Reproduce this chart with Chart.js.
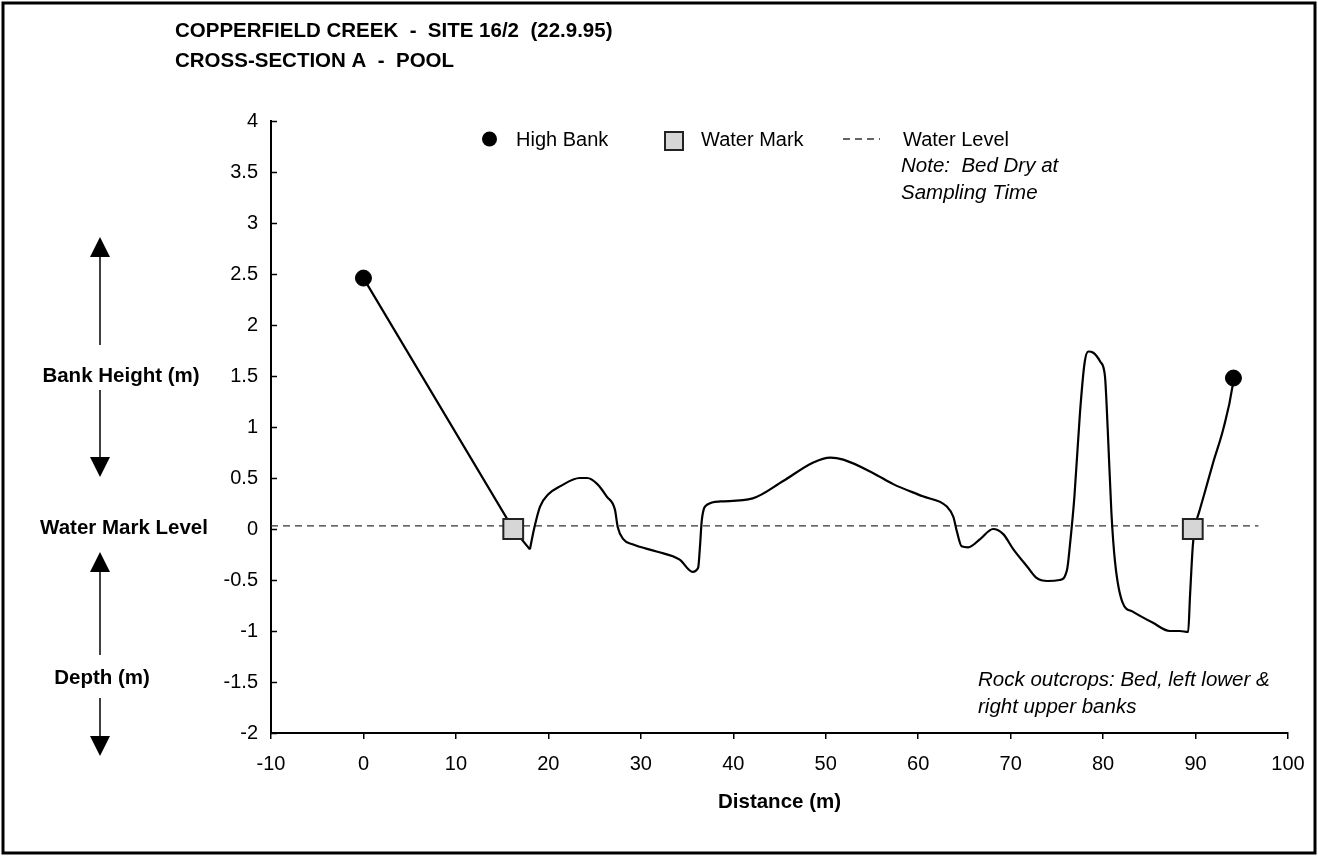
<!DOCTYPE html>
<html><head><meta charset="utf-8">
<script src="https://cdn.jsdelivr.net/npm/chart.js@4/dist/chart.umd.min.js"></script>
<style>html,body{margin:0;padding:0;background:#fff}canvas{display:block}</style>
</head><body>
<canvas id="c" width="1318" height="856"></canvas>
<script>
const titleLines = ["COPPERFIELD CREEK  -  SITE 16/2  (22.9.95)", "CROSS-SECTION A  -  POOL"];
const xTickValues = [-10, 0, 10, 20, 30, 40, 50, 60, 70, 80, 90, 100];
const xTickLabels = ["-10", "0", "10", "20", "30", "40", "50", "60", "70", "80", "90", "100"];
const yTickValues = [-2, -1.5, -1, -0.5, 0, 0.5, 1, 1.5, 2, 2.5, 3, 3.5, 4];
const yTickLabels = ["-2", "-1.5", "-1", "-0.5", "0", "0.5", "1", "1.5", "2", "2.5", "3", "3.5", "4"];
const xAxisTitle = "Distance (m)";
const legendLabels = ["High Bank", "Water Mark", "Water Level"];
const noteLines = ["Note:  Bed Dry at", "Sampling Time"];
const rockLines = ["Rock outcrops: Bed, left lower &", "right upper banks"];
const sideLabels = ["Bank Height (m)", "Water Mark Level", "Depth (m)"];

// left bank (straight segments)
const bankX = [0, 16.2, 18.0];
const bankY = [2.46, 0, -0.20];
// bed profile (smooth)
const profileX = [18.0, 18.5, 19.1, 20.0, 21.3, 23.4, 24.2, 25.3, 26.3, 27.2, 27.5, 28.1, 29.1, 31.7, 34.2, 35.6, 36.2, 36.4, 36.6, 37.2, 38.6, 42.1, 45.4, 48.6, 50.5, 51.9, 55.1, 57.3, 60.5, 63.1, 63.8, 64.2, 64.7, 65.4, 66.7, 68.1, 69.2, 70.3, 71.8, 72.8, 74.0, 75.3, 76.1, 76.4, 76.9, 77.5, 78.0, 78.4, 78.9, 79.7, 80.2, 80.5, 80.9, 81.3, 82.1, 83.2, 85.4, 87.2, 88.3, 89.2, 89.4, 89.7, 89.9, 90.4, 91.0, 91.9, 93.0, 94.0, 94.1];
const profileY = [-0.20, 0.02, 0.22, 0.34, 0.42, 0.50, 0.50, 0.44, 0.32, 0.19, 0.02, -0.10, -0.15, -0.22, -0.30, -0.42, -0.38, -0.17, 0.09, 0.24, 0.27, 0.30, 0.47, 0.65, 0.70, 0.68, 0.55, 0.44, 0.32, 0.22, 0.12, -0.03, -0.17, -0.18, -0.10, 0.00, -0.05, -0.20, -0.37, -0.48, -0.51, -0.50, -0.40, -0.17, 0.32, 1.14, 1.63, 1.74, 1.73, 1.64, 1.50, 0.98, 0.16, -0.33, -0.72, -0.81, -0.92, -1.00, -1.00, -1.01, -0.66, -0.17, 0.00, 0.17, 0.36, 0.65, 0.98, 1.40, 1.48];
const highBankX = [0, 94.1];
const highBankY = [2.46, 1.48];
const waterMarkX = [16.2, 89.7];
const waterMarkY = [0, 0];
const waterLevelX = [-10, 96.8];
const waterLevelY = [0.03, 0.03];

const pts = (xs, ys) => xs.map((x, i) => ({x: x, y: ys[i]}));
const FONT = "'Liberation Sans', Arial, sans-serif";
const markFill = '#d6d6d6';

const deco = {
  id: 'deco',
  afterDraw(chart) {
    const ctx = chart.ctx;
    const ys = chart.scales.y;
    ctx.save();
    // frame
    ctx.strokeStyle = '#000'; ctx.lineWidth = 3;
    ctx.strokeRect(3, 3, 1312, 850);
    // inward y ticks
    ctx.lineWidth = 1.5;
    yTickValues.forEach(v => {
      const py = Math.round(ys.getPixelForValue(v)) + 0.5;
      ctx.beginPath(); ctx.moveTo(chart.chartArea.left, py); ctx.lineTo(chart.chartArea.left + 6, py); ctx.stroke();
    });
    ctx.fillStyle = '#000';
    ctx.textBaseline = 'middle';
    // title
    ctx.font = 'bold 20.5px ' + FONT; ctx.textAlign = 'left';
    ctx.fillText(titleLines[0], 175, 31);
    ctx.fillText(titleLines[1], 175, 61);
    // x axis title
    ctx.font = 'bold 20.5px ' + FONT; ctx.textAlign = 'center';
    ctx.fillText(xAxisTitle, (chart.chartArea.left + chart.chartArea.right) / 2, 802);
    // side labels
    ctx.fillText(sideLabels[0], 121, 376);
    ctx.fillText(sideLabels[1], 124, 528);
    ctx.fillText(sideLabels[2], 102, 678);
    // arrows
    const arrow = (x, y1, y2) => {
      const dir = Math.sign(y2 - y1);
      ctx.lineWidth = 1.5;
      ctx.beginPath(); ctx.moveTo(x, y1); ctx.lineTo(x, y2 - dir * 18); ctx.stroke();
      ctx.beginPath(); ctx.moveTo(x, y2); ctx.lineTo(x - 10, y2 - dir * 20); ctx.lineTo(x + 10, y2 - dir * 20); ctx.closePath(); ctx.fill();
    };
    arrow(100, 345, 237);
    arrow(100, 390, 477);
    arrow(100, 655, 552);
    arrow(100, 698, 756);
    // legend
    ctx.beginPath(); ctx.arc(489.5, 139, 7.5, 0, Math.PI * 2); ctx.fill();
    ctx.font = '20px ' + FONT; ctx.textAlign = 'left';
    ctx.fillText(legendLabels[0], 516, 140);
    ctx.fillStyle = markFill; ctx.fillRect(665, 132, 18, 18);
    ctx.strokeStyle = '#222'; ctx.lineWidth = 2; ctx.strokeRect(665, 132, 18, 18);
    ctx.fillStyle = '#000';
    ctx.fillText(legendLabels[1], 701, 140);
    ctx.strokeStyle = '#333'; ctx.lineWidth = 1.3; ctx.setLineDash([7, 5]);
    ctx.beginPath(); ctx.moveTo(843, 139); ctx.lineTo(880, 139); ctx.stroke();
    ctx.setLineDash([]);
    ctx.fillText(legendLabels[2], 903, 140);
    // notes
    ctx.font = 'italic 20.5px ' + FONT;
    ctx.fillText(noteLines[0], 901, 166);
    ctx.fillText(noteLines[1], 901, 193);
    ctx.fillText(rockLines[0], 978, 680);
    ctx.fillText(rockLines[1], 978, 707);
    ctx.restore();
  }
};

new Chart(document.getElementById('c'), {
  type: 'scatter',
  data: {
    datasets: [
      { label: legendLabels[0], data: pts(highBankX, highBankY), showLine: false, order: 0,
        pointStyle: 'circle', pointRadius: 8, pointBackgroundColor: '#000', pointBorderColor: '#000', pointBorderWidth: 1 },
      { label: legendLabels[1], data: pts(waterMarkX, waterMarkY), showLine: false, order: 0,
        pointStyle: 'rect', pointRadius: 14, pointBackgroundColor: markFill, pointBorderColor: '#222', pointBorderWidth: 2 },
      { label: 'Bank', data: pts(bankX, bankY), showLine: true, tension: 0, order: 2,
        borderColor: '#000', borderWidth: 2.2, pointRadius: 0 },
      { label: 'Bed', data: pts(profileX, profileY), showLine: true, cubicInterpolationMode: 'monotone', order: 2,
        borderColor: '#000', borderWidth: 2.2, pointRadius: 0 },
      { label: legendLabels[2], data: pts(waterLevelX, waterLevelY), showLine: true, order: 3,
        borderColor: '#333', borderWidth: 1.2, borderDash: [7, 5], pointRadius: 0 }
    ]
  },
  options: {
    responsive: false, animation: false, devicePixelRatio: 1,
    layout: { padding: { top: 121, right: 30, left: 0, bottom: 0 } },
    plugins: { legend: { display: false }, tooltip: { enabled: false }, title: { display: false } },
    scales: {
      x: {
        type: 'linear', min: -10, max: 100,
        afterBuildTicks: s => { s.ticks = xTickValues.map(v => ({value: v})); },
        afterFit: s => { s.height = 856 - 733; },
        grid: { display: true, drawOnChartArea: false, drawTicks: true, tickLength: 6, color: '#000', lineWidth: 1.5 },
        border: { display: true, color: '#000', width: 2 },
        ticks: { color: '#000', font: { family: FONT, size: 20 }, padding: 13, maxRotation: 0,
          callback: (v) => xTickLabels[xTickValues.indexOf(v)] }
      },
      y: {
        type: 'linear', min: -2, max: 4,
        afterBuildTicks: s => { s.ticks = yTickValues.map(v => ({value: v})); },
        afterFit: s => { s.width = 271; },
        grid: { display: false, drawTicks: false },
        border: { display: true, color: '#000', width: 2 },
        ticks: { color: '#000', font: { family: FONT, size: 20 }, padding: 13,
          callback: (v) => yTickLabels[yTickValues.indexOf(v)] }
      }
    }
  },
  plugins: [deco]
});
</script>
</body></html>
